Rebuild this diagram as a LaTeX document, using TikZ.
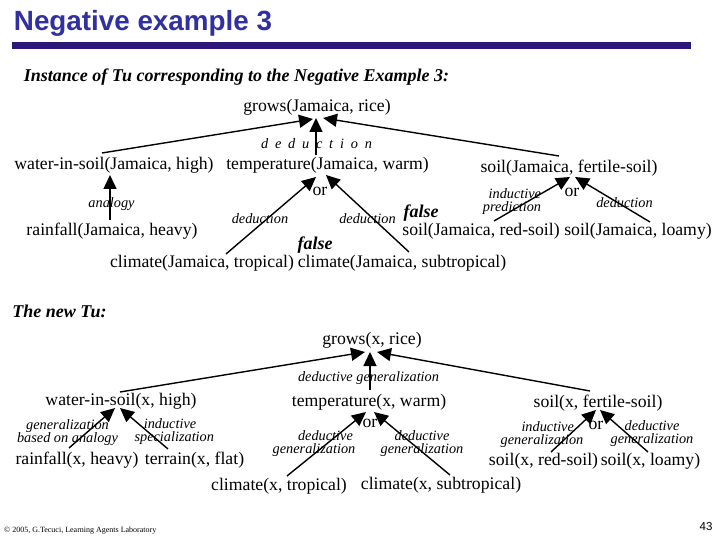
\documentclass[tikz,border=0pt]{standalone}
\usepackage{fontspec}
\setmainfont{Liberation Serif}
\newfontfamily\arialfont{Liberation Sans}
\usetikzlibrary{arrows.meta}
\definecolor{titleblue}{RGB}{48,48,160}
\definecolor{barblue}{RGB}{44,22,120}
\tikzset{
  x=1pt,y=-1pt,
  term/.style={inner sep=0pt,yshift=-1pt,font=\fontsize{17.7}{17.7}\selectfont},
  lab/.style={inner sep=0pt,align=center,yshift=-0.5pt,font=\fontsize{14.3}{13}\selectfont\itshape},
  orlab/.style={inner sep=0pt,yshift=-1pt,font=\fontsize{17.7}{17.7}\selectfont},
  falselab/.style={inner sep=0pt,yshift=-1pt,font=\fontsize{18}{18}\selectfont\bfseries\itshape},
  head/.style={inner sep=0pt,yshift=-1pt,font=\fontsize{18}{18}\selectfont\bfseries\itshape},
  conn/.style={line width=1.4pt,-{Triangle[length=14pt,width=13pt]}},
}
\begin{document}
\begin{tikzpicture}
\useasboundingbox (0,0) rectangle (720,540);
\fill[white] (0,0) rectangle (720,540);
\node[inner sep=0pt,text=titleblue,font=\fontsize{27.8}{27.8}\selectfont\arialfont\bfseries] (title) at (143,23) {Negative example 3};
\fill[barblue] (12,42) rectangle (691,49);
\node[head] (h1) at (236.5,76) {Instance of Tu corresponding to the Negative Example 3:};
% upper tree
\node[term] (g1) at (317,106) {grows(Jamaica, rice)};
\node[term] (w1) at (114,164) {water-in-soil(Jamaica, high)};
\node[term] (t1) at (327.5,164) {temperature(Jamaica, warm)};
\node[term] (s1) at (569,167) {soil(Jamaica, fertile-soil)};
\node[term] (r1) at (112,230) {rainfall(Jamaica, heavy)};
\node[term] (c1) at (202,262) {climate(Jamaica, tropical)};
\node[term] (c2) at (402,262) {climate(Jamaica, subtropical)};
\node[term] (sr1) at (481,230) {soil(Jamaica, red-soil)};
\node[term] (sl1) at (638,230) {soil(Jamaica, loamy)};
\node[lab] (d0) at (316.5,143) {\spaceskip=6.8pt d e d u c t i o n};
\node[lab] (an) at (111.5,204) {analogy};
\node[lab] (d1) at (260,218) {deduction};
\node[lab] (d2) at (367.5,218) {deduction};
\node[lab] (ip) at (512,201.5) {\hspace*{0.4em}inductive\\prediction};
\node[lab] (d3) at (624.5,202) {deduction};
\node[orlab] (or1) at (320,190) {or};
\node[orlab] (or2) at (572,191) {or};
\node[falselab] (f1) at (315,244) {false};
\node[falselab] (f2) at (421,212) {false};
\coordinate (a1) at (102,153); \coordinate (a1t) at (313,119);
\coordinate (a2) at (316,155); \coordinate (a2t) at (316,118);
\coordinate (a3) at (559,156); \coordinate (a3t) at (323,118);
\coordinate (a4) at (110,220); \coordinate (a4t) at (110,175);
\coordinate (a5) at (226,254); \coordinate (a5t) at (316,177);
\coordinate (a6) at (409,252); \coordinate (a6t) at (326,175);
\coordinate (a7) at (494,221); \coordinate (a7t) at (570,177);
\coordinate (a8) at (650,222); \coordinate (a8t) at (575,177);
\foreach \n in {1,...,8}{\draw[conn] (a\n) -- (a\n t);}
% lower tree
\node[head] (h2) at (59.5,310) {The new Tu:};
\node[term] (g2) at (372,339) {grows(x, rice)};
\node[term] (w2) at (121,400) {water-in-soil(x, high)};
\node[term] (t2) at (369,401) {temperature(x, warm)};
\node[term] (s2) at (598,402) {soil(x, fertile-soil)};
\node[term] (r2) at (77,459) {rainfall(x, heavy)};
\node[term] (tr2) at (194.5,459) {terrain(x, flat)};
\node[term] (c3) at (279,485) {climate(x, tropical)};
\node[term] (c4) at (441,484) {climate(x, subtropical)};
\node[term] (sr2) at (543.5,460) {soil(x, red-soil)};
\node[term] (sl2) at (650.5,460) {soil(x, loamy)};
\node[lab] (dg0) at (368.5,378) {deductive generalization};
\node[lab] (gba) at (67.5,432.5) {generalization\\based on analogy};
\node[lab] (is) at (170,431.5) {inductive\\\hspace*{0.6em}specialization};
\node[lab] (dg1) at (314,443.5) {\hspace*{1.6em}deductive\\generalization};
\node[lab] (dg2) at (422,443) {deductive\\generalization};
\node[lab] (ig) at (542,434.5) {\hspace*{0.8em}inductive\\generalization};
\node[lab] (dg3) at (652,433.5) {deductive\\generalization};
\node[orlab] (or3) at (370,422) {or};
\node[orlab] (or4) at (596,424) {or};
\coordinate (b1) at (120,392); \coordinate (b1t) at (365,352);
\coordinate (b2) at (370,390); \coordinate (b2t) at (370,352);
\coordinate (b3) at (590,391); \coordinate (b3t) at (377,352);
\coordinate (b4) at (69,448);  \coordinate (b4t) at (115,408);
\coordinate (b5) at (168,449); \coordinate (b5t) at (120,408);
\coordinate (b6) at (287,476); \coordinate (b6t) at (366,412);
\coordinate (b7) at (450,475); \coordinate (b7t) at (374,412);
\coordinate (b8) at (551,452); \coordinate (b8t) at (596,410);
\coordinate (b9) at (648,452); \coordinate (b9t) at (600,410);
\foreach \n in {1,...,9}{\draw[conn] (b\n) -- (b\n t);}
% footer
\node[inner sep=0pt,anchor=west,font=\fontsize{8}{8}\selectfont] (copy) at (4,531) {© 2005, G.Tecuci, Learning Agents Laboratory};
\node[inner sep=0pt,font=\fontsize{11.5}{12}\selectfont\arialfont] (pg) at (706,527) {43};
\end{tikzpicture}
\end{document}
